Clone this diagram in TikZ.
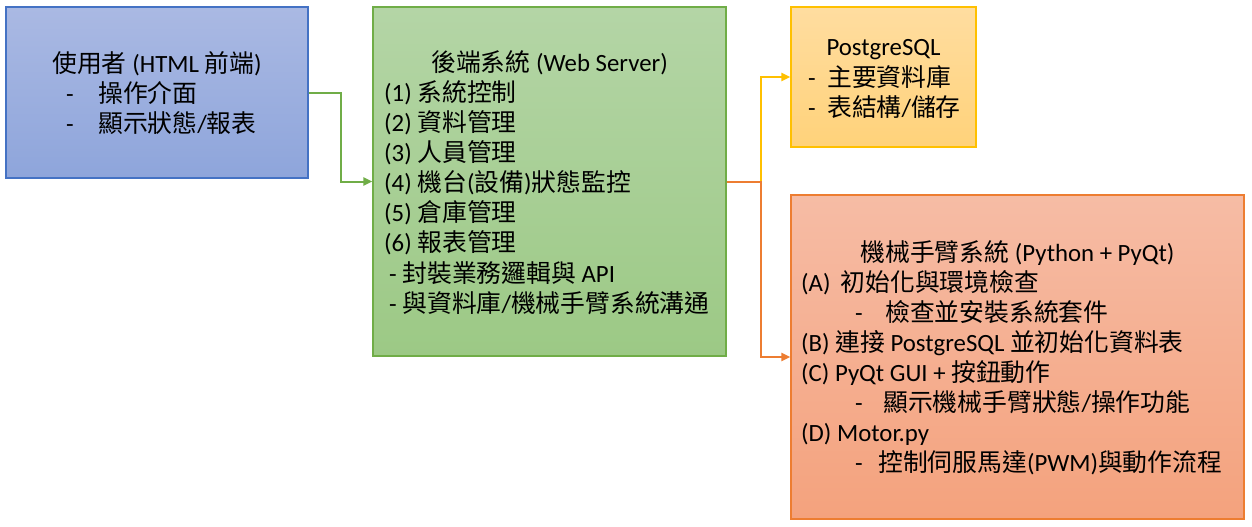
\documentclass[tikz,border=0pt]{standalone}
\usepackage{fontspec}
\setmainfont{Carlito}
\newfontfamily\cjkf{Noto Sans CJK TC}
\newcommand\zh[1]{{\cjkf #1}}
\usetikzlibrary{arrows.meta}
\definecolor{bluetop}{HTML}{AAB9E3}
\definecolor{bluebot}{HTML}{8EA5DB}
\definecolor{blueline}{HTML}{4472C4}
\definecolor{greentop}{HTML}{B4D5A6}
\definecolor{greenbot}{HTML}{9CC985}
\definecolor{greenline}{HTML}{70AD47}
\definecolor{yellowtop}{HTML}{FFDDA0}
\definecolor{yellowbot}{HTML}{FFD27A}
\definecolor{yellowline}{HTML}{FFC000}
\definecolor{orangetop}{HTML}{F6BCA5}
\definecolor{orangebot}{HTML}{F4A27D}
\definecolor{orangeline}{HTML}{ED7D31}
\tikzset{
  box/.style={draw, line width=1.2pt, rectangle, inner sep=0pt},
  txt/.style={inner sep=0pt, anchor=base west, font=\fontsize{24.8pt}{30pt}\selectfont, text=black},
  ttl/.style={txt, anchor=base},
  conn/.style={line width=2pt, -{Triangle[length=9pt,width=8pt]}},
}
\begin{document}
\begin{tikzpicture}[x=1pt,y=-1pt]
\useasboundingbox (0,0) rectangle (1252,527);
% boxes
\node[box, draw=blueline, top color=bluetop, bottom color=bluebot, minimum width=302, minimum height=171] (user) at (157,92.5) {};
\node[box, draw=greenline, top color=greentop, bottom color=greenbot, minimum width=353, minimum height=349] (web) at (549.5,181.5) {};
\node[box, draw=yellowline, top color=yellowtop, bottom color=yellowbot, minimum width=185, minimum height=140] (pg) at (883.5,77) {};
\node[box, draw=orangeline, top color=orangetop, bottom color=orangebot, minimum width=453, minimum height=324] (arm) at (1017.5,357) {};
% connectors
\draw[conn, greenline] (user.east) -- ++(32,0) |- (web.west);
\draw[conn, yellowline] (web.east) -- ++(34,0) |- (pg.west);
\draw[conn, orangeline] (web.east) -- ++(34,0) |- (arm.west);
% user text
\node[ttl] (u0) at (157,72) {\zh{使用者} (HTML \zh{前端})};
\node[txt] (u1d) at (66,102) {-};
\node[txt] (u1) at (98,102) {\zh{操作介面}};
\node[txt] (u2d) at (66,132) {-};
\node[txt] (u2) at (98,132) {\zh{顯示狀態}/\zh{報表}};
% web text
\node[ttl] (w0) at (549.5,71) {\zh{後端系統} (Web Server)};
\node[txt] (w1) at (384,101) {(1) \zh{系統控制}};
\node[txt] (w2) at (384,131) {(2) \zh{資料管理}};
\node[txt] (w3) at (384,161) {(3) \zh{人員管理}};
\node[txt] (w4) at (384,191) {(4) \zh{機台}(\zh{設備})\zh{狀態監控}};
\node[txt] (w5) at (384,221) {(5) \zh{倉庫管理}};
\node[txt] (w6) at (384,251) {(6) \zh{報表管理}};
\node[txt] (w7) at (389,282) {- \zh{封裝業務邏輯與} API};
\node[txt] (w8) at (389,312) {- \zh{與資料庫}/\zh{機械手臂系統溝通}};
% postgres text
\node[ttl] (p0) at (883.5,56) {PostgreSQL};
\node[txt] (p1d) at (808,86) {-};
\node[txt] (p1) at (827,86) {\zh{主要資料庫}};
\node[txt] (p2d) at (808,116) {-};
\node[txt] (p2) at (827,116) {\zh{表結構}/\zh{儲存}};
% arm text
\node[ttl] (a0) at (1017.5,261) {\zh{機械手臂系統} (Python + PyQt)};
\node[txt] (a1) at (801,291) {(A)\hspace{10pt}\zh{初始化與環境檢查}};
\node[txt] (a1d) at (855,321) {-};
\node[txt] (a1s) at (885,321) {\zh{檢查並安裝系統套件}};
\node[txt] (a2) at (801,351) {(B) \zh{連接} PostgreSQL \zh{並初始化資料表}};
\node[txt] (a3) at (801,381) {(C) PyQt GUI + \zh{按鈕動作}};
\node[txt] (a3d) at (855,411) {-};
\node[txt] (a3s) at (883,411) {\zh{顯示機械手臂狀態}/\zh{操作功能}};
\node[txt] (a4) at (801,441) {(D) Motor.py};
\node[txt] (a4d) at (855,471) {-};
\node[txt] (a4s) at (878,471) {\zh{控制伺服馬達}(PWM)\zh{與動作流程}};
\end{tikzpicture}
\end{document}
